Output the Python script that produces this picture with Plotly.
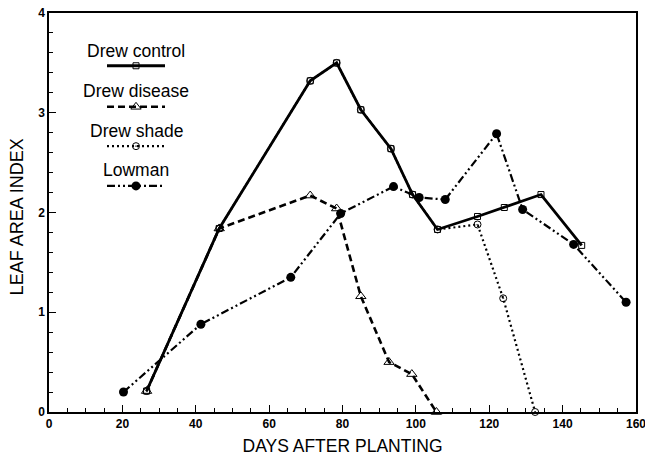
import plotly.graph_objects as go

# Leaf area index over the season, four treatments
control_days = [26.6, 46.4, 71.2, 78.4, 85.0, 93.2, 99.1, 105.9, 116.8, 124.1, 134.1, 145.2]
control_lai = [0.21, 1.84, 3.32, 3.50, 3.03, 2.64, 2.18, 1.83, 1.96, 2.05, 2.18, 1.67]

disease_days = [26.6, 46.4, 71.2, 78.4, 85.0, 92.7, 98.9, 105.6]
disease_lai = [0.21, 1.84, 2.17, 2.04, 1.16, 0.50, 0.38, 0.0]

shade_days = [26.6, 46.4, 71.2, 78.4, 85.0, 93.2, 99.1, 105.9, 116.8, 123.8, 132.5]
shade_lai = [0.21, 1.84, 3.32, 3.50, 3.03, 2.64, 2.18, 1.83, 1.88, 1.14, 0.0]

lowman_days = [20.3, 41.4, 65.9, 79.5, 93.9, 100.9, 108.0, 122.0, 129.1, 143.0, 157.3]
lowman_lai = [0.20, 0.88, 1.35, 1.99, 2.26, 2.15, 2.13, 2.79, 2.03, 1.68, 1.10]

series_names = ["Drew control", "Drew disease", "Drew shade", "Lowman"]

x_ticks = [0, 20, 40, 60, 80, 100, 120, 140, 160]
y_ticks = [0, 1, 2, 3, 4]

INK = "black"
FONT = "Liberation Sans, Arial, Helvetica, sans-serif"

styles = {
    "Drew control": dict(line=dict(color=INK, width=2.8, dash="solid"),
                         marker=dict(symbol="square-open", size=6, color=INK, line=dict(width=1))),
    "Drew disease": dict(line=dict(color=INK, width=2.6, dash="7px,4px"),
                         marker=dict(symbol="triangle-up-open", size=9, color=INK, line=dict(width=1))),
    "Drew shade": dict(line=dict(color=INK, width=2.2, dash="2px,3px"),
                       marker=dict(symbol="circle-open-dot", size=7, color=INK, line=dict(width=1))),
    "Lowman": dict(line=dict(color=INK, width=2.2, dash="8px,3px,2px,3px,2px,3px"),
                   marker=dict(symbol="circle", size=9, color=INK)),
}

data = {
    "Drew control": (control_days, control_lai),
    "Drew disease": (disease_days, disease_lai),
    "Drew shade": (shade_days, shade_lai),
    "Lowman": (lowman_days, lowman_lai),
}

fig = go.Figure()

# draw order: lighter lines first, solid control on top
for name in ["Drew shade", "Drew disease", "Lowman", "Drew control"]:
    xs, ys = data[name]
    fig.add_trace(go.Scatter(x=xs, y=ys, mode="lines+markers", name=name,
                             showlegend=False, cliponaxis=False, **styles[name]))

# hand-built legend on a pixel-scaled overlay axis: label above, line sample below
legend_left, legend_right, legend_mid = 107, 165, 136
legend_line_y = [65.7, 106.7, 146.0, 185.7]
legend_text_y = [50.5, 90.5, 130.5, 170.0]
for name, ly, ty in zip(series_names, legend_line_y, legend_text_y):
    st = styles[name]
    fig.add_trace(go.Scatter(x=[legend_left, legend_right], y=[ly, ly], mode="lines",
                             line=st["line"], xaxis="x2", yaxis="y2",
                             showlegend=False, hoverinfo="skip"))
    fig.add_trace(go.Scatter(x=[legend_mid], y=[ly], mode="markers",
                             marker=st["marker"], xaxis="x2", yaxis="y2",
                             showlegend=False, hoverinfo="skip"))
    fig.add_annotation(x=legend_mid, y=ty, xref="x2", yref="y2", text=name,
                       showarrow=False, font=dict(family=FONT, size=17.5, color=INK),
                       xanchor="center", yanchor="middle")

# vertical axis title placed by hand
fig.add_annotation(x=-0.053, y=0.49, xref="paper", yref="paper", text="LEAF AREA INDEX",
                   textangle=-90, showarrow=False, xanchor="center", yanchor="middle",
                   font=dict(family=FONT, size=18, color=INK))

axis_common = dict(
    showgrid=False, zeroline=False, showline=True, linecolor=INK, linewidth=1.5,
    mirror=True, ticks="inside", ticklen=7, tickwidth=1.2, tickcolor=INK,
    tickfont=dict(family=FONT, size=12, color=INK, weight="bold"),
    automargin=False, ticklabeloverflow="allow",
)

fig.update_layout(
    width=645, height=459,
    margin=dict(l=49, r=9, t=13, b=47),
    paper_bgcolor="white", plot_bgcolor="white",
    font=dict(family=FONT, color=INK),
    xaxis=dict(range=[0, 160], tickvals=x_ticks, ticktext=[str(v) for v in x_ticks],
               minor=dict(dtick=5, ticks="inside", ticklen=4, tickcolor=INK, tickwidth=1),
               title=dict(text="DAYS AFTER PLANTING", font=dict(family=FONT, size=17.5, color=INK),
                          standoff=10),
               **axis_common),
    yaxis=dict(range=[0, 4], tickvals=y_ticks, ticktext=[str(v) for v in y_ticks],
               minor=dict(dtick=0.2, ticks="inside", ticklen=4, tickcolor=INK, tickwidth=1),
               **axis_common),
    xaxis2=dict(overlaying="x", range=[49, 636], visible=False),
    yaxis2=dict(overlaying="y", range=[411.5, 13], visible=False),
)

fig.write_html("out.html")
